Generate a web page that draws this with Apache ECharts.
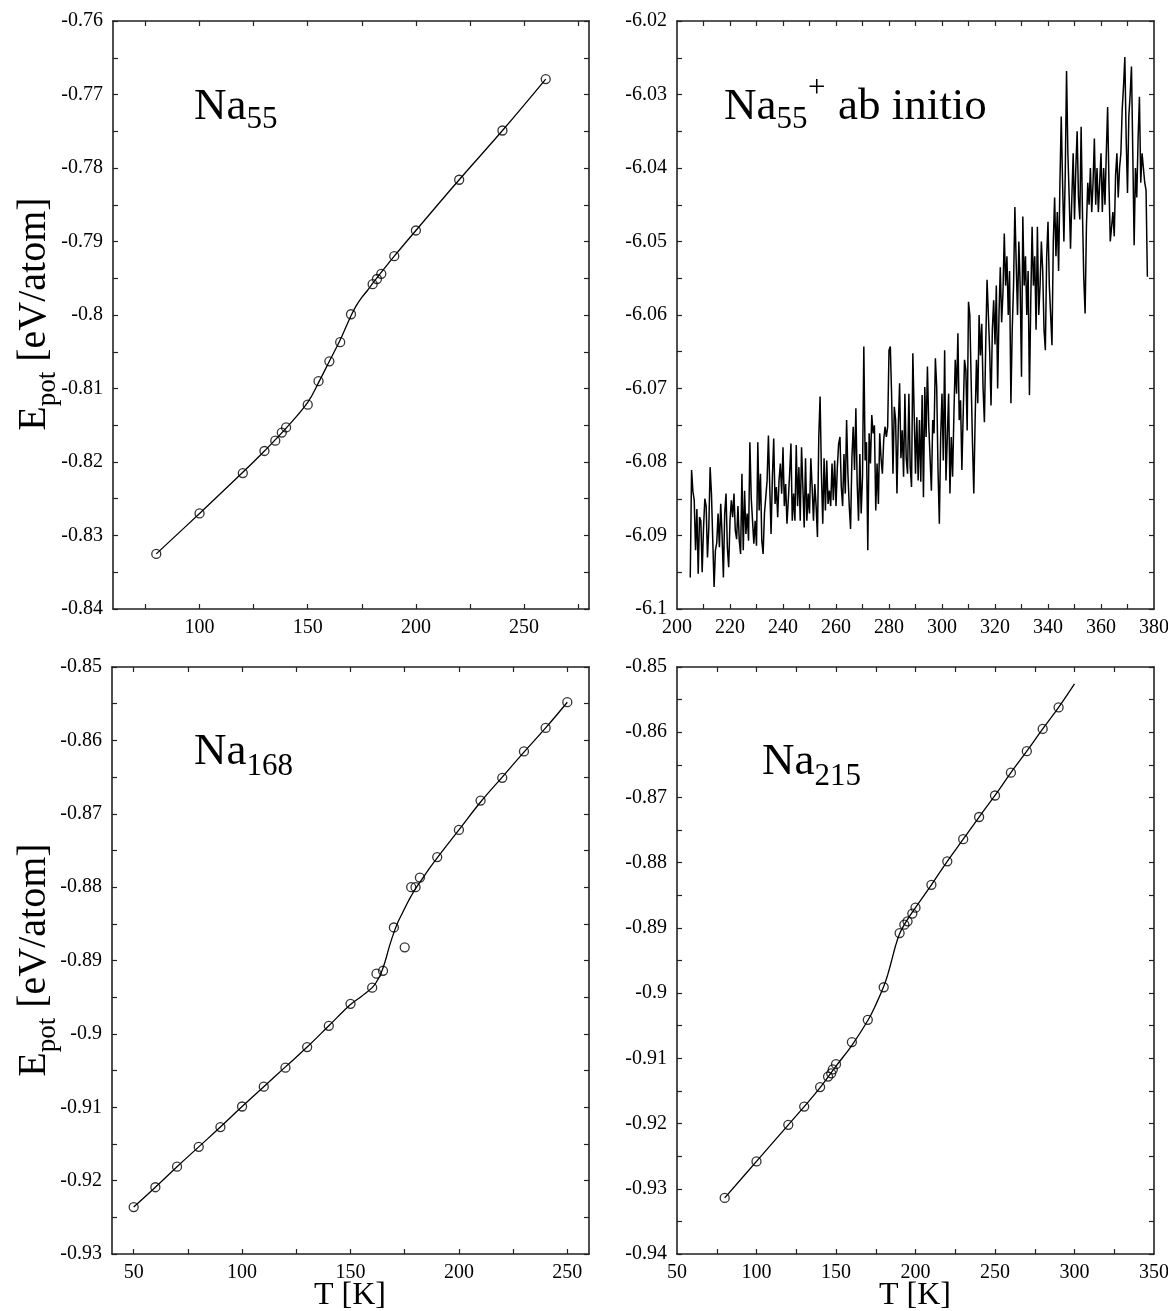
<!DOCTYPE html>
<html>
<head>
<meta charset="utf-8">
<script src="https://cdn.jsdelivr.net/npm/echarts@6/dist/echarts.min.js"></script>
<style>
html, body { margin: 0; padding: 0; background: #fff; }
#chart { width: 1168px; height: 1311px; }
</style>
</head>
<body>
<div id="chart"></div>
<script>
// Na55 (classical), measured points and fitted curve
var na55T = [80, 100, 120, 130, 135, 138, 140, 150, 155, 160, 165, 170, 180, 182, 184, 190, 200, 220, 240, 260];
var na55E = [-0.8325, -0.8270, -0.8215, -0.8185, -0.8171, -0.8160, -0.8153, -0.8122, -0.8090, -0.8063,
             -0.8037, -0.7999, -0.7958, -0.7951, -0.7944, -0.7920, -0.7885, -0.7816, -0.7749, -0.7679];
var na55FitT = [80, 100, 120, 130, 140, 150, 155, 160, 165, 170, 172.5, 175, 177.5, 180, 190, 200, 220, 240, 260];
var na55FitE = [-0.8325, -0.8270, -0.8214, -0.8185, -0.8154, -0.8119, -0.8092, -0.8063, -0.8034, -0.8001,
                -0.7987, -0.7976, -0.7967, -0.7957, -0.7920, -0.7885, -0.7816, -0.7749, -0.7679];

// Na55+ ab initio trajectory, sampled every 0.5 K from 205 K
var abStartT = 205;
var abStepT = 0.5;
var abE = [
  -6.0957, -6.0811, -6.0840, -6.0852, -6.0920, -6.0864, -6.0952, -6.0875, -6.0880, -6.0950,
  -6.0890, -6.0850, -6.0860, -6.0930, -6.0890, -6.0807, -6.0843, -6.0907, -6.0970, -6.0920,
  -6.0910, -6.0870, -6.0916, -6.0857, -6.0898, -6.0957, -6.0870, -6.0843, -6.0916, -6.0943,
  -6.0880, -6.0852, -6.0875, -6.0843, -6.0893, -6.0905, -6.0860, -6.0907, -6.0925, -6.0816,
  -6.0920, -6.0839, -6.0898, -6.0870, -6.0907, -6.0773, -6.0848, -6.0880, -6.0911, -6.0880,
  -6.0914, -6.0773, -6.0866, -6.0816, -6.0907, -6.0925, -6.0870, -6.0848, -6.0825, -6.0764,
  -6.0834, -6.0898, -6.0820, -6.0768, -6.0857, -6.0834, -6.0875, -6.0825, -6.0802, -6.0843,
  -6.0780, -6.0860, -6.0830, -6.0884, -6.0852, -6.0816, -6.0775, -6.0880, -6.0843, -6.0880,
  -6.0777, -6.0860, -6.0807, -6.0880, -6.0780, -6.0834, -6.0889, -6.0795, -6.0880, -6.0843,
  -6.0870, -6.0795, -6.0834, -6.0880, -6.0830, -6.0860, -6.0902, -6.0766, -6.0711, -6.0816,
  -6.0884, -6.0795, -6.0866, -6.0798, -6.0857, -6.0839, -6.0860, -6.0802, -6.0852, -6.0798,
  -6.0860, -6.0807, -6.0775, -6.0766, -6.0834, -6.0860, -6.0789, -6.0843, -6.0743, -6.0816,
  -6.0860, -6.0891, -6.0795, -6.0752, -6.0811, -6.0727, -6.0830, -6.0880, -6.0789, -6.0870,
  -6.0820, -6.0643, -6.0798, -6.0773, -6.0920, -6.0761, -6.0802, -6.0736, -6.0761, -6.0750,
  -6.0866, -6.0802, -6.0857, -6.0761, -6.0795, -6.0816, -6.0770, -6.0752, -6.0766, -6.0752,
  -6.0648, -6.0643, -6.0711, -6.0816, -6.0725, -6.0743, -6.0843, -6.0752, -6.0693, -6.0795,
  -6.0757, -6.0820, -6.0707, -6.0795, -6.0816, -6.0707, -6.0807, -6.0834, -6.0652, -6.0734,
  -6.0816, -6.0739, -6.0825, -6.0743, -6.0827, -6.0709, -6.0848, -6.0698, -6.0766, -6.0670,
  -6.0750, -6.0752, -6.0839, -6.0743, -6.0761, -6.0659, -6.0698, -6.0811, -6.0884, -6.0766,
  -6.0707, -6.0798, -6.0648, -6.0825, -6.0766, -6.0707, -6.0843, -6.0766, -6.0820, -6.0734,
  -6.0661, -6.0707, -6.0625, -6.0743, -6.0716, -6.0811, -6.0734, -6.0661, -6.0675, -6.0757,
  -6.0582, -6.0600, -6.0689, -6.0773, -6.0843, -6.0743, -6.0661, -6.0720, -6.0600, -6.0655,
  -6.0612, -6.0700, -6.0746, -6.0640, -6.0552, -6.0600, -6.0650, -6.0723, -6.0620, -6.0580,
  -6.0640, -6.0560, -6.0700, -6.0600, -6.0535, -6.0610, -6.0570, -6.0489, -6.0560, -6.0520,
  -6.0600, -6.0540, -6.0720, -6.0620, -6.0560, -6.0453, -6.0530, -6.0600, -6.0500, -6.0560,
  -6.0684, -6.0466, -6.0560, -6.0520, -6.0600, -6.0540, -6.0709, -6.0580, -6.0480, -6.0560,
  -6.0520, -6.0620, -6.0480, -6.0600, -6.0560, -6.0500, -6.0540, -6.0620, -6.0648, -6.0520,
  -6.0473, -6.0560, -6.0600, -6.0641, -6.0500, -6.0440, -6.0520, -6.0460, -6.0540, -6.0420,
  -6.0330, -6.0420, -6.0500, -6.0410, -6.0268, -6.0380, -6.0440, -6.0510, -6.0440, -6.0380,
  -6.0470, -6.0400, -6.0350, -6.0440, -6.0470, -6.0344, -6.0460, -6.0550, -6.0598, -6.0480,
  -6.0420, -6.0450, -6.0400, -6.0460, -6.0420, -6.0360, -6.0450, -6.0400, -6.0460, -6.0420,
  -6.0380, -6.0460, -6.0400, -6.0450, -6.0380, -6.0317, -6.0420, -6.0500, -6.0500, -6.0460,
  -6.0493, -6.0410, -6.0380, -6.0440, -6.0400, -6.0380, -6.0320, -6.0289, -6.0249, -6.0360,
  -6.0434, -6.0330, -6.0300, -6.0262, -6.0380, -6.0505, -6.0400, -6.0440, -6.0360, -6.0303,
  -6.0420, -6.0380, -6.0400, -6.0420, -6.0430, -6.0548
];

// Na168
var na168T = [50, 60, 70, 80, 90, 100, 110, 120, 130, 140, 150, 160, 162, 165, 170, 175, 178, 180, 182,
              190, 200, 210, 220, 230, 240, 250];
var na168E = [-0.9236, -0.9209, -0.9181, -0.9154, -0.9127, -0.9099, -0.9072, -0.9046, -0.9018, -0.8989,
              -0.8959, -0.8937, -0.8918, -0.8914, -0.8855, -0.8882, -0.8800, -0.8800, -0.8787,
              -0.8759, -0.8722, -0.8682, -0.8651, -0.8615, -0.8583, -0.8548];
var na168FitT = [50, 60, 70, 80, 90, 100, 110, 120, 130, 140, 150, 155, 160, 162, 164, 166, 168, 170,
                 172, 174, 176, 178, 180, 183, 186, 190, 200, 210, 220, 230, 240, 250];
var na168FitE = [-0.9236, -0.9209, -0.9181, -0.9154, -0.9127, -0.9099, -0.9072, -0.9045, -0.9018, -0.8989,
                 -0.8960, -0.8949, -0.8937, -0.8929, -0.8918, -0.8901, -0.8880, -0.8862,
                 -0.8847, -0.8835, -0.8823, -0.8812, -0.8802, -0.8789, -0.8776, -0.8760,
                 -0.8722, -0.8684, -0.8650, -0.8616, -0.8583, -0.8548];

// Na215
var na215T = [80, 100, 120, 130, 140, 145, 147, 148, 150, 160, 170, 180, 190, 193, 195, 198, 200,
              210, 220, 230, 240, 250, 260, 270, 280, 290];
var na215E = [-0.9314, -0.9258, -0.9202, -0.9174, -0.9144, -0.9128, -0.9123, -0.9117, -0.9109, -0.9075,
              -0.9041, -0.8991, -0.8908, -0.8895, -0.8890, -0.8878, -0.8869,
              -0.8834, -0.8798, -0.8764, -0.8730, -0.8697, -0.8662, -0.8629, -0.8595, -0.8562];
var na215FitT = [80, 100, 120, 130, 140, 150, 160, 170, 175, 180, 182.5, 185, 187.5, 190, 192.5, 195, 200,
                 210, 220, 230, 240, 250, 260, 270, 280, 290, 300];
var na215FitE = [-0.9314, -0.9258, -0.9202, -0.9174, -0.9145, -0.9112, -0.9080, -0.9042, -0.9018, -0.8990,
                 -0.8972, -0.8950, -0.8927, -0.8909, -0.8897, -0.8887, -0.8869,
                 -0.8834, -0.8798, -0.8764, -0.8730, -0.8697, -0.8662, -0.8629, -0.8595, -0.8562, -0.8526];

// axis ticks and labels
var tlTicks = [75, 100, 125, 150, 175, 200, 225, 250, 275];
var tlLabels = [100, 150, 200, 250];
var trTicks = [210, 220, 230, 240, 250, 260, 270, 280, 290, 300, 310, 320, 330, 340, 350, 360, 370];
var trLabels = [200, 220, 240, 260, 280, 300, 320, 340, 360, 380];
var blTicks = [50, 75, 100, 125, 150, 175, 200, 225, 250];
var blLabels = [50, 100, 150, 200, 250];
var brTicks = [75, 100, 125, 150, 175, 200, 225, 250, 275, 300, 325];
var brLabels = [50, 100, 150, 200, 250, 300, 350];

var FONT = '"Liberation Serif", "Times New Roman", serif';
var INK = '#222';

function pairs(xs, ys) {
    var out = [];
    for (var i = 0; i < xs.length; i++) {
        out.push([xs[i], ys[i]]);
    }
    return out;
}

var abData = [];
for (var i = 0; i < abE.length; i++) {
    abData.push([abStartT + i * abStepT, abE[i]]);
}

var grids = [
    {left: 113, top: 21, width: 476, height: 588},
    {left: 677, top: 21, width: 477, height: 588},
    {left: 112, top: 667, width: 477, height: 587},
    {left: 677, top: 667, width: 477, height: 587}
];

var tickStyle = {color: INK, width: 1.2};
var lineStyle = {color: INK, width: 1.6};

function makeX(gi, min, max, ticks, labels) {
    return [{
        type: 'value', gridIndex: gi, position: 'bottom', min: min, max: max,
        splitLine: {show: false},
        axisLine: {lineStyle: lineStyle},
        axisTick: {inside: true, length: 5, customValues: ticks, lineStyle: tickStyle},
        axisLabel: {customValues: labels, color: '#000', fontFamily: FONT, fontSize: 20, margin: 9}
    }, {
        type: 'value', gridIndex: gi, position: 'top', min: min, max: max,
        splitLine: {show: false},
        axisLine: {lineStyle: lineStyle},
        axisTick: {inside: true, length: 5, customValues: ticks, lineStyle: tickStyle},
        axisLabel: {show: false}
    }];
}

function makeY(gi, min, max) {
    var base = {
        type: 'value', gridIndex: gi, min: min, max: max, interval: 0.01,
        splitLine: {show: false},
        axisLine: {lineStyle: lineStyle},
        axisTick: {inside: true, length: 5, lineStyle: tickStyle},
        minorTick: {show: true, splitNumber: 2, length: 5, lineStyle: tickStyle}
    };
    var left = Object.assign({}, base, {
        position: 'left',
        axisLabel: {color: '#000', fontFamily: FONT, fontSize: 20, margin: 10}
    });
    var right = Object.assign({}, base, {position: 'right', axisLabel: {show: false}});
    return [left, right];
}

function fitSeries(gi, data) {
    return {
        type: 'line', xAxisIndex: gi * 2, yAxisIndex: gi * 2, data: data,
        smooth: 0.4, showSymbol: false, silent: true,
        lineStyle: {color: '#000', width: 1.3}, z: 2
    };
}

function pointSeries(gi, data) {
    return {
        type: 'scatter', xAxisIndex: gi * 2, yAxisIndex: gi * 2, data: data,
        symbol: 'circle', symbolSize: 9, silent: true,
        itemStyle: {color: 'rgba(0,0,0,0)', borderColor: '#000', borderWidth: 1.3}, z: 3
    };
}

// text placed by its alphabetic baseline
function txt(x, baseline, text, size, align) {
    return {
        type: 'text', silent: true,
        style: {
            x: x, y: baseline - 0.3375 * size, text: text,
            font: size + 'px ' + FONT, fill: '#000',
            align: align || 'left', verticalAlign: 'middle',
            textAlign: align || 'left', textVerticalAlign: 'middle'
        }
    };
}

function yName(cx, cy) {
    return {
        type: 'group', x: cx, y: cy, rotation: Math.PI / 2,
        children: [
            txt(-116.7, 0, 'E', 40),
            txt(-92.3, 9, 'pot', 27),
            txt(-47.8, 0, '[eV/atom]', 40)
        ]
    };
}

var xAxes = [].concat(
    makeX(0, 60, 280, tlTicks, tlLabels),
    makeX(1, 200, 380, trTicks, trLabels),
    makeX(2, 40, 260, blTicks, blLabels),
    makeX(3, 50, 350, brTicks, brLabels)
);
var yAxes = [].concat(
    makeY(0, -0.84, -0.76),
    makeY(1, -6.1, -6.02),
    makeY(2, -0.93, -0.85),
    makeY(3, -0.94, -0.85)
);

var chart = echarts.init(document.getElementById('chart'), null, {renderer: 'canvas'});
var option = {
    animation: false,
    backgroundColor: '#fff',
    grid: grids.map(function (g) {
        return Object.assign({containLabel: false, outerBoundsMode: 'none'}, g);
    }),
    xAxis: xAxes,
    yAxis: yAxes,
    series: [
        fitSeries(0, pairs(na55FitT, na55FitE)),
        pointSeries(0, pairs(na55T, na55E)),
        {
            type: 'line', xAxisIndex: 2, yAxisIndex: 2, data: abData,
            showSymbol: false, silent: true,
            lineStyle: {color: '#000', width: 1.5}
        },
        fitSeries(2, pairs(na168FitT, na168FitE)),
        pointSeries(2, pairs(na168T, na168E)),
        fitSeries(3, pairs(na215FitT, na215FitE)),
        pointSeries(3, pairs(na215T, na215E))
    ],
    graphic: [
        txt(194, 122, 'Na', 45),
        txt(246.5, 130, '55', 31),
        txt(724, 122, 'Na', 45),
        txt(776.5, 130, '55', 31),
        txt(808, 99, '+', 31),
        txt(838, 122, 'ab initio', 45),
        txt(194, 767, 'Na', 45),
        txt(246.5, 777, '168', 31),
        txt(762, 777, 'Na', 45),
        txt(814.5, 787, '215', 31),
        yName(48, 314),
        yName(48, 960),
        txt(350, 1306, 'T [K]', 32, 'center'),
        txt(915, 1306, 'T [K]', 32, 'center')
    ]
};
chart.setOption(option);
</script>
</body>
</html>
